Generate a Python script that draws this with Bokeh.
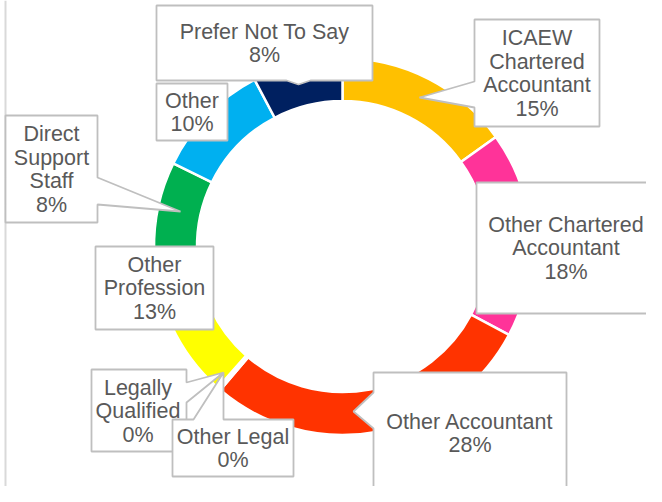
import math
from bokeh.plotting import figure
from bokeh.models import Range1d
from bokeh.core.properties import value
from bokeh.embed import file_html
from bokeh.resources import INLINE

# ---- data ----
categories = ["ICAEW Chartered Accountant", "Other Chartered Accountant", "Other Accountant",
              "Other Legal", "Legally Qualified", "Other Profession",
              "Direct Support Staff", "Other", "Prefer Not To Say"]
label_names = ["ICAEW\nChartered\nAccountant", "Other Chartered\nAccountant", "Other Accountant",
               "Other Legal", "Legally\nQualified", "Other\nProfession",
               "Direct\nSupport\nStaff", "Other", "Prefer Not To Say"]
shares = [15.1, 17.6, 28.4, 0.15, 0.15, 13.1, 7.6, 10.0, 7.7]
colors = ["#FFC000", "#FF3399", "#FF3300", "#7030A0", "#A5A5A5", "#FFFF00",
          "#00B050", "#00B0F0", "#002060"]

# ---- layout (image pixel coordinates, y down) ----
H = 502
W_FIG, H_FIG = 646, 486
CX, CY = 342, 246
R_IN, R_OUT = 145.5, 188.5

def fy(y):
    return H - y

p = figure(width=W_FIG, height=H_FIG, output_backend="svg", toolbar_location=None,
           x_range=Range1d(0, W_FIG), y_range=Range1d(H - H_FIG, H),
           x_axis_location=None, y_axis_location=None, min_border=0,
           outline_line_color=None, background_fill_color="white")
p.grid.visible = False

# left chart-area border
p.line([5, 5], [fy(0), fy(502)], line_color="#D9D9D9", line_width=2)

total = sum(shares)
starts, ends = [], []
cum = 0.0
for v in shares:
    starts.append(math.pi / 2 - 2 * math.pi * cum / total)
    cum += v
    ends.append(math.pi / 2 - 2 * math.pi * cum / total)

p.annular_wedge(x=[CX] * len(shares), y=[fy(CY)] * len(shares),
                inner_radius=R_IN, outer_radius=R_OUT,
                start_angle=starts, end_angle=ends, direction="clock",
                fill_color=colors, line_color="white", line_width=2.5)

# callout polygons (image coords) and text centres, keyed by category index
callouts = {
    8: ([(156, 5), (372, 5), (372, 80), (310, 80), (298, 84), (286, 80), (156, 80)], (264, 43)),
    7: ([(156, 83), (227, 83), (227, 140), (156, 140)], (191.5, 112)),
    6: ([(5, 115), (97, 115), (97, 177), (180, 211), (97, 204), (97, 222), (5, 222)], (51, 169)),
    5: ([(95, 246), (213, 246), (213, 329), (95, 329)], (154, 288)),
    4: ([(91, 369), (186, 369), (186, 382), (223, 372), (186, 402), (186, 451), (91, 451)], (137.5, 411)),
    3: ([(172, 419), (193, 419), (223, 372), (223, 419), (293, 419), (293, 476), (172, 476)], (232.5, 448)),
    2: ([(373, 372), (566, 372), (566, 494), (373, 494), (373, 428), (353, 411), (373, 392)], (469.5, 433)),
    1: ([(476, 182), (655, 182), (655, 313), (476, 313)], (565.5, 248)),
    0: ([(474, 19), (599, 19), (599, 126), (474, 126), (474, 107), (419, 97), (474, 81)], (536.5, 73)),
}

for i in [8, 7, 6, 5, 4, 3, 2, 1, 0]:
    pts, (tx, ty) = callouts[i]
    p.patch([q[0] for q in pts], [fy(q[1]) for q in pts], fill_color="white",
            line_color="#BFBFBF", line_width=1.8)
    pct = round(shares[i] / total * 100)
    p.text(x=[tx], y=[fy(ty)], text=[f"{label_names[i]}\n{pct}%"],
           text_font=value("Liberation Sans"), text_font_size="21.5px",
           text_color="#595959", text_align="center", text_baseline="middle",
           text_line_height=0.98)

open("out.html", "w").write(file_html(p, INLINE))
